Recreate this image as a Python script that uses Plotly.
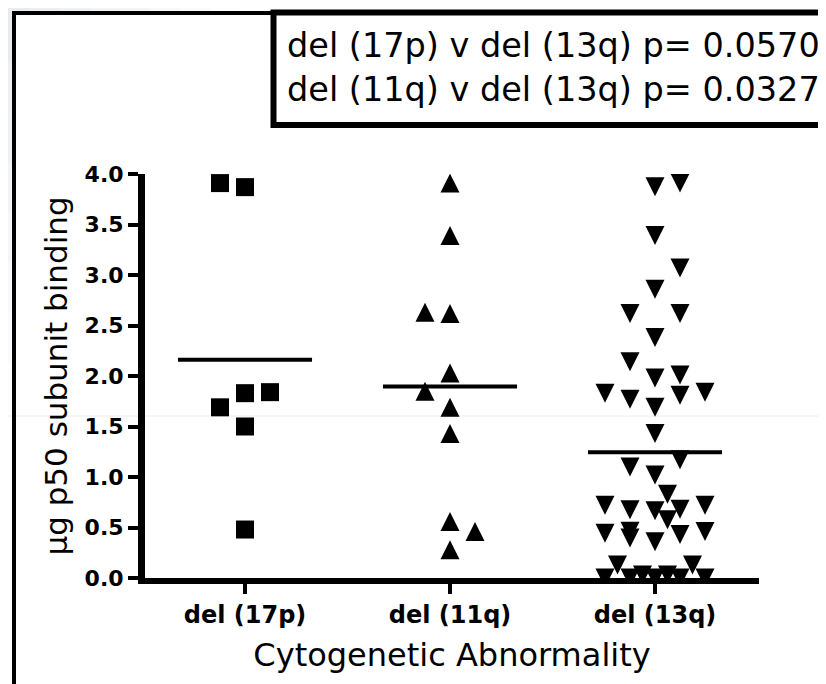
import numpy as np
import plotly.graph_objects as go

# ---------------- data ----------------
categories = ["del (17p)", "del (11q)", "del (13q)"]

del17p_values = [3.91, 3.87, 1.83, 1.84, 1.69, 1.50, 0.48]
del17p_slots = [-1, 0, 0, 1, -1, 0, 0]

del11q_values = [3.91, 3.39, 2.63, 2.62, 2.03, 1.85, 1.69, 1.43, 0.56, 0.46, 0.28]
del11q_slots = [0, 0, -1, 0, 0, -1, 0, 0, 0, 1, 0]

del13q_values = [3.875, 3.91, 3.39, 3.07, 2.86, 2.62, 2.62, 2.38, 2.14, 2.01, 1.98,
                 1.83, 1.77, 1.69, 1.81, 1.84, 1.43, 1.17, 1.10, 1.02, 0.83,
                 0.72, 0.675, 0.665, 0.68, 0.72, 0.576, 0.444, 0.464, 0.395, 0.36, 0.43, 0.46,
                 0.128, 0.128, 0.0, 0.0, 0.03, 0.0, 0.03, 0.0, 0.0]
del13q_slots = [0, 1, 0, 1, 0, -1, 1, 0, -1, 1, 0,
                -2, -1, 0, 1, 2, 0, 1, -1, 0, 0.5,
                -2, -1, 0, 1, 2, 0.5, -2, -1, -1, 0, 1, 2,
                -1.5, 1.5, -2, -1, -0.5, 0, 0.5, 1, 2]

y_ticks = [0.0, 0.5, 1.0, 1.5, 2.0, 2.5, 3.0, 3.5, 4.0]
stats_lines = ["del (17p) v del (13q) p= 0.0570",
               "del (11q) v del (13q) p= 0.0327"]
x_title = "Cytogenetic Abnormality"
y_title = "µg p50 subunit binding"

# ---------------- layout geometry (screen pixels of the page) ----------------
W, H = 826, 684
OFF = 8                      # page body margin in front of the figure
PL, PR, PT, PB = 145, 759, 174, 578   # plot area edges on screen
ML, MT = PL - OFF, PT - OFF
MR = W - (PR - OFF)
MB = H - (PB - OFF)
PW = PR - PL
PH = PB - PT
SLOT = 0.122          # horizontal spacing of scattered points (category units)
MEAN_HALF = 0.327     # half width of mean bar (category units)
XMIN = -100 / 205


def fx(px):
    return (px - PL) / PW


def fy(py):
    return (PB - py) / PH


FONT = "DejaVu Sans"

groups = [
    (del17p_values, del17p_slots, dict(symbol="square", size=18, color="black")),
    (del11q_values, del11q_slots, dict(symbol="arrow-down", angle=180, standoff=9.5,
                                       size=19, color="black")),
    (del13q_values, del13q_slots, dict(symbol="arrow-down", angle=0, standoff=9.5,
                                       size=19, color="black")),
]

fig = go.Figure()
for i, (vals, slots, mk) in enumerate(groups):
    xs = [i + s * SLOT for s in slots]
    fig.add_trace(go.Scatter(x=xs, y=vals, mode="markers", marker=mk,
                             name=categories[i], showlegend=False, cliponaxis=True,
                             hoverinfo="y"))
    m = float(np.mean(vals))
    fig.add_trace(go.Scatter(x=[i - MEAN_HALF, i + MEAN_HALF], y=[m, m], mode="lines",
                             line=dict(color="black", width=4), showlegend=False,
                             hoverinfo="skip"))

shapes = []
# slide-like grey gradient in top-left outside the frame
for k in range(8):
    op = 0.22 * (1 - k / 8)
    shapes.append(dict(type="rect", xref="paper", yref="paper",
                       x0=fx(0 + k * 30), x1=fx(30 + k * 30), y0=fy(12), y1=fy(0),
                       fillcolor="#9aa8b8", opacity=op, line=dict(width=0), layer="below"))
    shapes.append(dict(type="rect", xref="paper", yref="paper",
                       x0=fx(0), x1=fx(12), y0=fy(12 + (k + 1) * 50), y1=fy(12 + k * 50),
                       fillcolor="#9aa8b8", opacity=op, line=dict(width=0), layer="below"))
# faint horizontal artefact line
shapes.append(dict(type="line", xref="paper", yref="paper", x0=fx(0), x1=fx(W + 5),
                   y0=fy(416), y1=fy(416), line=dict(color="#ececec", width=1), layer="below"))
# outer frame (left and top)
shapes.append(dict(type="line", xref="paper", yref="paper", x0=fx(14), x1=fx(14),
                   y0=fy(H + 5), y1=fy(11), line=dict(color="black", width=4)))
shapes.append(dict(type="line", xref="paper", yref="paper", x0=fx(12), x1=fx(W + 5),
                   y0=fy(13), y1=fy(13), line=dict(color="black", width=4)))
# statistics box
shapes.append(dict(type="rect", xref="paper", yref="paper", x0=fx(273.5), x1=fx(W + 20),
                   y0=fy(125), y1=fy(12.5), line=dict(color="black", width=6),
                   fillcolor="white"))

annotations = []
for txt, base_y in zip(stats_lines, [60, 104]):
    annotations.append(dict(text=txt, xref="paper", yref="paper", x=fx(285), y=fy(base_y + 7),
                            xanchor="left", yanchor="bottom", showarrow=False,
                            font=dict(family=FONT, size=33.5, color="black")))

fig.update_layout(
    width=W, height=H,
    margin=dict(l=ML, r=MR, t=MT, b=MB, pad=0),
    paper_bgcolor="white", plot_bgcolor="white",
    shapes=shapes, annotations=annotations,
    xaxis=dict(range=[XMIN, XMIN + PW / 205], tickvals=[0, 1, 2],
               ticktext=categories, showgrid=False, zeroline=False,
               showline=True, linecolor="black", linewidth=6,
               ticks="outside", ticklen=10, tickwidth=4, tickcolor="black",
               tickfont=dict(family=FONT, size=24, color="black", weight="bold"),
               title=dict(text=x_title, standoff=18,
                          font=dict(family=FONT, size=32, color="black"))),
    yaxis=dict(range=[0, 4.0], tickvals=y_ticks, tickformat=".1f", showgrid=False,
               zeroline=False, showline=True, linecolor="black", linewidth=7,
               ticks="outside", ticklen=10, tickwidth=4, tickcolor="black",
               tickfont=dict(family=FONT, size=22, color="black", weight="bold"),
               title=dict(text=y_title, standoff=10,
                          font=dict(family=FONT, size=31, color="black"))),
)

fig.write_html("out.html")
